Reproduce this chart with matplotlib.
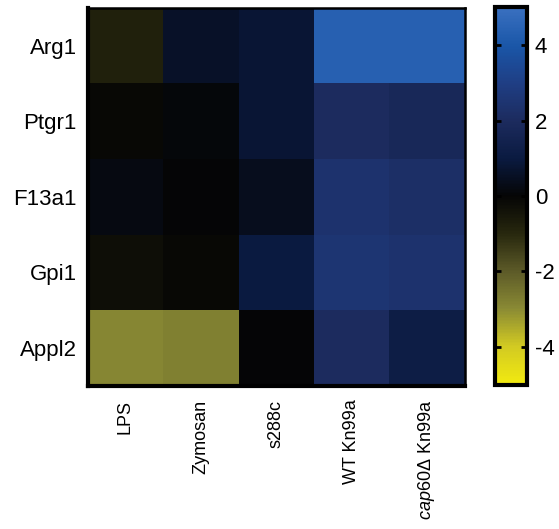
import matplotlib
matplotlib.use("Agg")
import matplotlib.pyplot as plt
import numpy as np
from matplotlib.colors import LinearSegmentedColormap

plt.rcParams['font.family'] = ['Liberation Sans', 'DejaVu Sans']
plt.rcParams['mathtext.fontset'] = 'custom'
plt.rcParams['mathtext.rm'] = 'Liberation Sans'
plt.rcParams['mathtext.it'] = 'Liberation Sans:italic'
plt.rcParams['axes.unicode_minus'] = False

# genes (rows) and stimuli (columns)
genes = ['Arg1', 'Ptgr1', 'F13a1', 'Gpi1', 'Appl2']
conditions = ['LPS', 'Zymosan', 's288c', 'WT Kn99a', r'$\mathit{cap60\Delta}$ Kn99a']

arg1 = [-0.8, 0.6, 0.8, 4.4, 4.4]
ptgr1 = [-0.1, 0.1, 0.8, 2.0, 1.8]
f13a1 = [0.2, 0.0, 0.4, 2.4, 2.2]
gpi1 = [-0.3, -0.1, 1.0, 2.5, 2.4]
appl2 = [-2.9, -2.8, 0.0, 2.0, 1.2]

cbar_ticks = [-4, -2, 0, 2, 4]

# yellow - black - blue (GraphPad style)
cmap = LinearSegmentedColormap.from_list('ykb', [
    (0.00, '#f2ea10'),
    (0.10, '#d2ca22'),
    (0.20, '#8a8a34'),
    (0.30, '#5c5a28'),
    (0.40, '#27270e'),
    (0.50, '#050505'),
    (0.60, '#0a1a40'),
    (0.70, '#1c2b5e'),
    (0.80, '#1f3e84'),
    (0.90, '#1a56a8'),
    (1.00, '#3a70c0'),
])

data = np.array([arg1, ptgr1, f13a1, gpi1, appl2])

fig = plt.figure(figsize=(5.59, 5.29), dpi=100)
ax = fig.add_axes([0.157, 0.271, 0.674, 0.714])
im = ax.imshow(data, cmap=cmap, vmin=-5, vmax=5, aspect='auto', interpolation='nearest')

ax.set_xticks(range(len(conditions)))
ax.set_xticklabels(conditions, rotation=90, fontsize=13)
ax.set_yticks(range(len(genes)))
ax.set_yticklabels(genes, fontsize=16)
ax.tick_params(length=0, pad=8)
ax.tick_params(axis='x', pad=10)
for s in ['left', 'bottom']:
    ax.spines[s].set_linewidth(3)
for s in ['top', 'right']:
    ax.spines[s].set_linewidth(1.8)

cax = fig.add_axes([0.885, 0.273, 0.057, 0.713])
cb = fig.colorbar(im, cax=cax, ticks=cbar_ticks)
cb.outline.set_linewidth(3)
cax.tick_params(direction='in', length=4, width=2, labelsize=16, pad=6,
                left=True, right=True)
cax.set_yticklabels([str(t) for t in cbar_ticks])

fig.savefig('out.png', dpi=100)
